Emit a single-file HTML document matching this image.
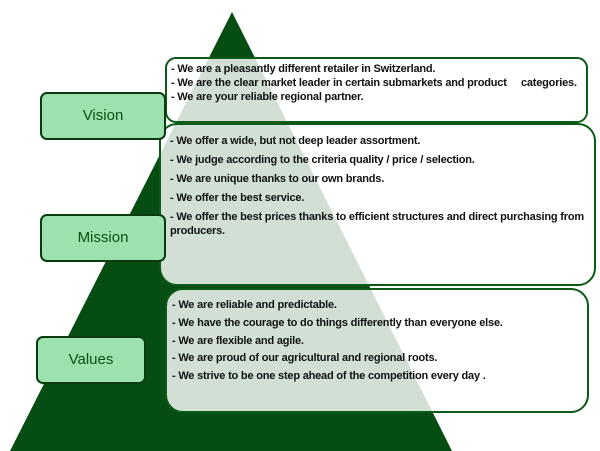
<!DOCTYPE html>
<html><head><style>
body{margin:0;width:600px;height:451px;background:#fff;position:relative;overflow:hidden;font-family:"Liberation Sans",sans-serif}
.box{position:absolute;border:2px solid #0b5a17;background:rgba(255,255,255,0.82);box-sizing:border-box}
.lab{position:absolute;border:2px solid #0a3b10;background:#9de2ae;border-radius:7px;box-sizing:border-box;color:#0a4f14;font-size:15px;text-align:center}
.t{position:absolute;font-size:11px;font-weight:bold;color:#111;letter-spacing:-0.2px;white-space:nowrap;line-height:12px}
</style></head><body>
<svg width="600" height="451" style="position:absolute;left:0;top:0"><polygon points="232,12 10,451 452,451" fill="#054d13"/></svg>
<div class="box" style="left:165px;top:57px;width:423px;height:66px;border-radius:11px"></div>
<div class="box" style="left:159px;top:123px;width:437px;height:163px;border-radius:18px"></div>
<div class="box" style="left:165px;top:288px;width:424px;height:125px;border-radius:18px"></div>
<div class="lab" style="left:40px;top:92px;width:126px;height:48px;line-height:44px">Vision</div>
<div class="lab" style="left:40px;top:214px;width:126px;height:48px;line-height:44px">Mission</div>
<div class="lab" style="left:36px;top:336px;width:110px;height:48px;line-height:44px">Values</div>
<div class="t" style="left:171px;top:63px">- We are a pleasantly different retailer in Switzerland.</div>
<div class="t" style="left:171px;top:77px">- We are the clear market leader in certain submarkets and product &nbsp;&nbsp;&nbsp; categories.</div>
<div class="t" style="left:171px;top:91px">- We are your reliable regional partner.</div>
<div class="t" style="left:170px;top:135px">- We offer a wide, but not deep leader assortment.</div>
<div class="t" style="left:170px;top:154px">- We judge according to the criteria quality / price / selection.</div>
<div class="t" style="left:170px;top:173px">- We are unique thanks to our own brands.</div>
<div class="t" style="left:170px;top:192px">- We offer the best service.</div>
<div class="t" style="left:170px;top:211px">- We offer the best prices thanks to efficient structures and direct purchasing from</div>
<div class="t" style="left:170px;top:225px">producers.</div>
<div class="t" style="left:172px;top:299px">- We are reliable and predictable.</div>
<div class="t" style="left:172px;top:317px">- We have the courage to do things differently than everyone else.</div>
<div class="t" style="left:172px;top:335px">- We are flexible and agile.</div>
<div class="t" style="left:172px;top:352px">- We are proud of our agricultural and regional roots.</div>
<div class="t" style="left:172px;top:370px">- We strive to be one step ahead of the competition every day .</div>
</body></html>
